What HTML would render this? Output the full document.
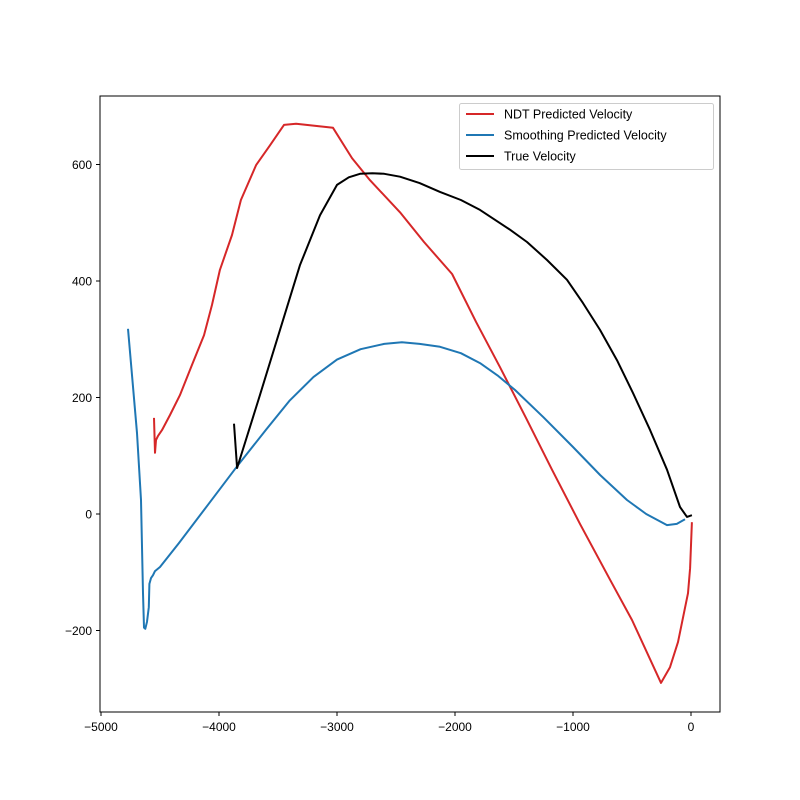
<!DOCTYPE html>
<html><head><meta charset="utf-8"><style>
body{margin:0;background:#fff}
svg{display:block;font-family:"Liberation Sans","DejaVu Sans",sans-serif}
</style></head><body>
<svg id="chart" width="800" height="800">
<g id="series"></g>
<g id="axes"></g>
</svg>
<script>
const xTicks=[-5000,-4000,-3000,-2000,-1000,0];
const yTicks=[-200,0,200,400,600];
const seriesNames=["NDT Predicted Velocity","Smoothing Predicted Velocity","True Velocity"];
const seriesColors=["#d62728","#1f77b4","#000000"];
const ndtX=[-4551,-4542,-4534,-4517,-4483,-4415,-4331,-4229,-4127,-4059,-3992,-3890,-3814,-3686,-3568,-3449,-3347,-3034,-2873,-2720,-2466,-2263,-2025,-1822,-1619,-1398,-1178,-941,-686,-500,-254,-178,-110,-25,-8,8];
const ndtY=[165,105,127,134,144,170,204,256,307,359,419,479,539,599,633,668,670,663,611,573,518,467,412,330,252,165,76,-17,-113,-182,-290,-263,-220,-136,-93,-14];
const smoothX=[-4771,-4695,-4661,-4644,-4636,-4625,-4610,-4595,-4590,-4576,-4559,-4542,-4500,-4340,-4100,-3850,-3600,-3400,-3200,-3000,-2800,-2600,-2450,-2300,-2127,-1950,-1788,-1640,-1492,-1250,-1000,-770,-542,-380,-203,-120,-51];
const smoothY=[318,139,24,-136,-195,-197,-185,-160,-120,-110,-105,-98,-91,-50,14,81,145,195,235,265,283,292,295,292,287,276,259,238,213,166,115,67,24,0,-19,-17,-9];
const trueX=[-3873,-3847,-3653,-3483,-3314,-3144,-3000,-2900,-2805,-2700,-2600,-2466,-2300,-2127,-1950,-1788,-1534,-1390,-1220,-1051,-915,-771,-627,-492,-347,-203,-93,-34,8];
const trueY=[155,79,204,316,427,513,565,578,584,585,584,579,568,553,539,522,488,467,436,402,362,316,264,208,144,76,12,-5,-2];
const ns="http://www.w3.org/2000/svg";
const L=100,R=720,T=96,B=712;
const sx=v=>691+v*0.118;
const sy=v=>514-v*0.5825;
const series=document.getElementById('series');
const axes=document.getElementById('axes');
function mk(tag,attrs,parent){const e=document.createElementNS(ns,tag);for(const k in attrs)e.setAttribute(k,attrs[k]);parent.appendChild(e);return e;}
const data=[[ndtX,ndtY],[smoothX,smoothY],[trueX,trueY]];
const lineNames=["ndt-line","smoothing-line","true-velocity-line"];
data.forEach((d,i)=>{
  const pts=d[0].map((x,j)=>sx(x).toFixed(1)+","+sy(d[1][j]).toFixed(1)).join(" ");
  const p=mk('polyline',{points:pts,fill:"none",stroke:seriesColors[i],"stroke-width":2,"stroke-linejoin":"round"},series);
  
  
});
const frame=mk('rect',{x:L,y:T,width:R-L,height:B-T,fill:"none",stroke:"#000","stroke-width":1},axes);


xTicks.forEach(v=>{
  const x=sx(v);
  mk('line',{x1:x,x2:x,y1:B,y2:B+4,stroke:"#000"},axes);
  const t=mk('text',{x:x,y:B+19,"text-anchor":"middle","font-size":12},axes);
  t.textContent=v===0?"0":"\u2212"+Math.abs(v);
  
  
});
yTicks.forEach(v=>{
  const y=sy(v);
  mk('line',{x1:L-4,x2:L,y1:y,y2:y,stroke:"#000"},axes);
  const t=mk('text',{x:L-8,y:y+4.5,"text-anchor":"end","font-size":12},axes);
  t.textContent=v<0?"\u2212"+Math.abs(v):String(v);
  
  
});
const lg=mk('g',{},axes);


mk('rect',{x:459.5,y:103.5,width:254,height:66,fill:"#fff",stroke:"#ccc",rx:2},lg);
seriesNames.forEach((n,i)=>{
  const y=114+i*21;
  const e=mk('g',{},lg);
  
  
  mk('line',{x1:466,x2:494,y1:y,y2:y,stroke:seriesColors[i],"stroke-width":2},e);
  const t=mk('text',{x:504,y:y+4.5,"font-size":12.5},e);
  t.textContent=n;
});
</script>
</body></html>
